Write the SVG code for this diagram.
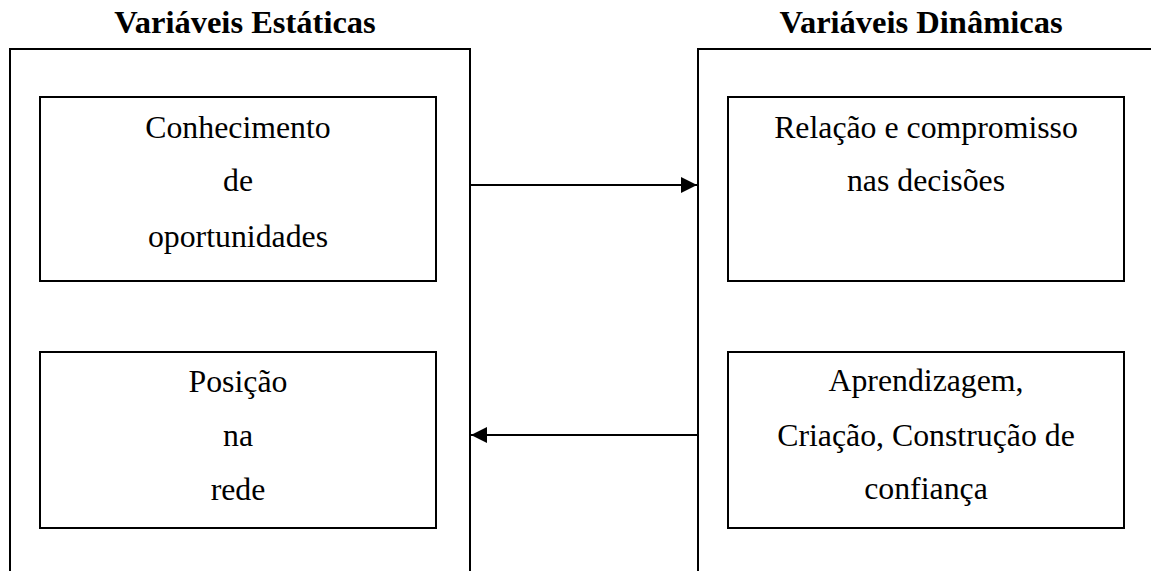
<svg xmlns="http://www.w3.org/2000/svg" width="1151" height="571" viewBox="0 0 1151 571">
  <style>
    .frame { fill: none; stroke: #000; stroke-width: 2; }
    .box { fill: #fff; stroke: #000; stroke-width: 2; }
    .title { font-family: "Liberation Serif", "Times New Roman", serif; font-size: 32.5px; font-weight: bold; fill: #000; text-anchor: middle; }
    .label { font-family: "Liberation Serif", "Times New Roman", serif; font-size: 31.8px; fill: #000; text-anchor: middle; }
    .link { stroke: #000; stroke-width: 2; fill: none; }
  </style>
  <defs>
    <marker id="arrow" viewBox="0 0 16 16" refX="16" refY="8" markerWidth="16" markerHeight="16" markerUnits="userSpaceOnUse" orient="auto">
      <path d="M0,0 L16,8 L0,16 Z" fill="#000"/>
    </marker>
  </defs>
  <rect width="1151" height="571" fill="#fff"/>

  <!-- Static variables column -->
  <g id="static-column">
    <text class="title" x="245" y="33">Variáveis Estáticas</text>
    <path class="frame" d="M10,580 L10,49 L470,49 L470,580"/>
  </g>

  <!-- Dynamic variables column -->
  <g id="dynamic-column">
    <text class="title" x="921" y="33">Variáveis Dinâmicas</text>
    <path class="frame" d="M698,580 L698,49 L1160,49"/>
  </g>

  <g id="conhecimento">
    <rect class="box" x="40" y="97" width="396" height="184"/>
    <text class="label" x="238" y="138">Conhecimento</text>
    <text class="label" x="238" y="191">de</text>
    <text class="label" x="238" y="247">oportunidades</text>
  </g>

  <g id="posicao">
    <rect class="box" x="40" y="352" width="396" height="176"/>
    <text class="label" x="238" y="392">Posição</text>
    <text class="label" x="238" y="446">na</text>
    <text class="label" x="238" y="500">rede</text>
  </g>

  <g id="relacao">
    <rect class="box" x="728" y="97" width="396" height="184"/>
    <text class="label" x="926" y="138">Relação e compromisso</text>
    <text class="label" x="926" y="191">nas decisões</text>
  </g>

  <g id="aprendizagem">
    <rect class="box" x="728" y="352" width="396" height="176"/>
    <text class="label" x="926" y="391">Aprendizagem,</text>
    <text class="label" x="926" y="446">Criação, Construção de</text>
    <text class="label" x="926" y="499">confiança</text>
  </g>

  <g id="connectors">
    <line class="link" x1="470" y1="185" x2="697" y2="185" marker-end="url(#arrow)"/>
    <line class="link" x1="698" y1="435" x2="471" y2="435" marker-end="url(#arrow)"/>
  </g>
</svg>
